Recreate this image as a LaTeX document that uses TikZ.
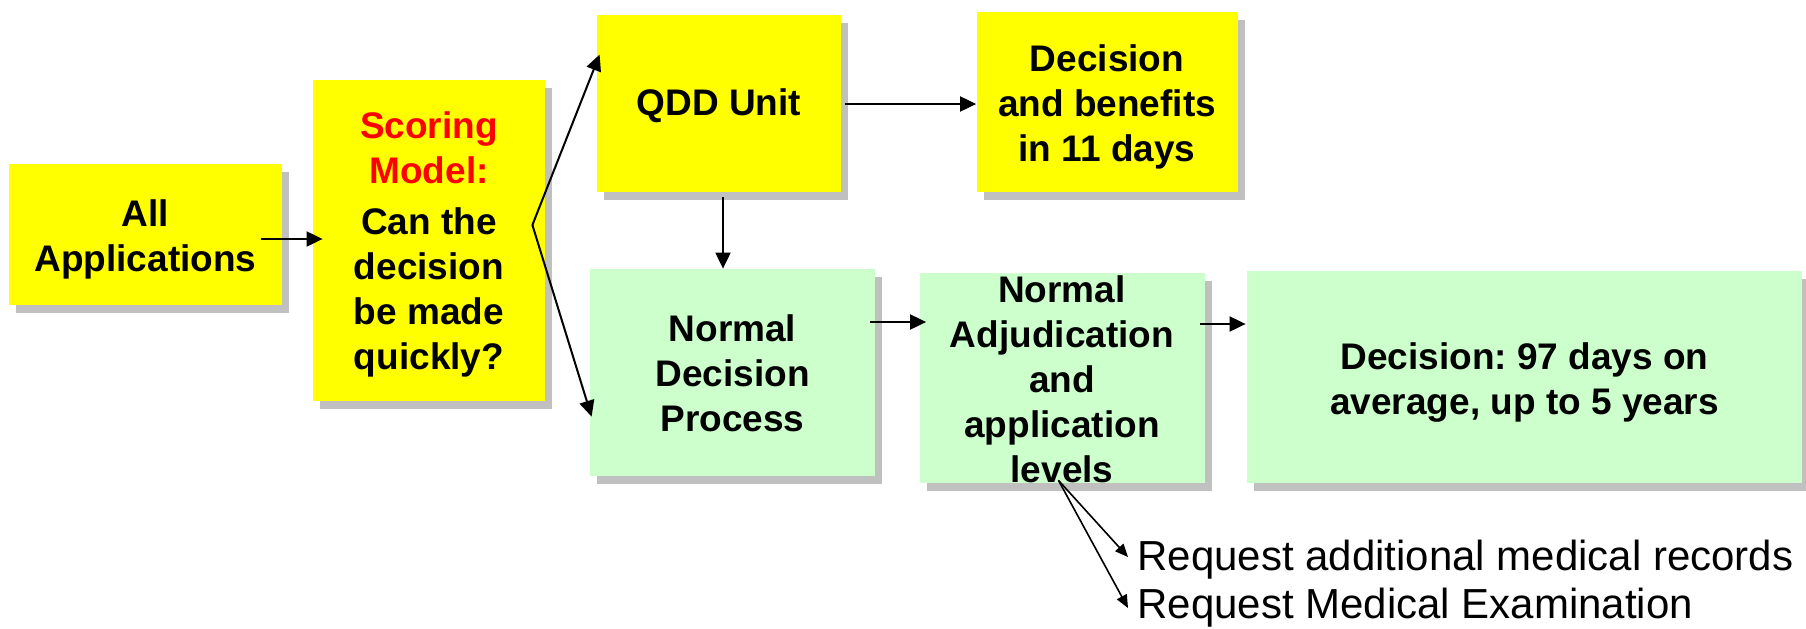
\documentclass[tikz,border=0pt]{standalone}
\usepackage{fontspec}
\setmainfont{Liberation Sans}
\frenchspacing
\usetikzlibrary{arrows.meta,shadows}
\definecolor{boxyellow}{RGB}{255,255,0}
\definecolor{boxgreen}{RGB}{204,255,204}
\definecolor{shadowgray}{RGB}{192,192,192}
\definecolor{scorered}{RGB}{255,0,0}
\begin{document}
\begin{tikzpicture}[x=0.5pt,y=-0.5pt,
  box/.style={rectangle, inner sep=0pt,
    drop shadow={shadow xshift=3.5pt,shadow yshift=-4pt,fill=shadowgray,opacity=1}},
  ybox/.style={box, fill=boxyellow},
  gbox/.style={box, fill=boxgreen},
  txt/.style={inner sep=0pt, align=center, font=\bfseries\fontsize{18.5}{22.5}\selectfont},
  arr/.style={line width=1pt, -{Triangle[length=8pt,width=7.5pt]}},
  thinarr/.style={line width=0.8pt, -{Triangle[length=6.5pt,width=5.5pt]}},
  note/.style={font=\fontsize{21}{24}\selectfont, anchor=base west, inner sep=0pt}]
\useasboundingbox (0,0) rectangle (1806,628);

\node[ybox, minimum width=136.5pt, minimum height=70.5pt] (allapp) at (145.5,234.5) {};
\node[ybox, minimum width=116pt, minimum height=160.5pt] (scoring) at (429,240.5) {};
\node[ybox, minimum width=122pt, minimum height=88.5pt] (qdd) at (719,103.5) {};
\node[ybox, minimum width=130.5pt, minimum height=90pt] (decben) at (1107,102) {};
\node[gbox, minimum width=142.5pt, minimum height=103.5pt] (normdec) at (732.5,372.5) {};
\node[gbox, minimum width=142.5pt, minimum height=105pt] (adj) at (1062,378) {};
\node[gbox, minimum width=277.5pt, minimum height=106pt] (dec97) at (1524.5,377) {};

\node[txt] (allapp-t) at ([shift={(0,5)}]allapp.center) {All\\Applications};
\node[txt] (scoring-t) at ([shift={(0,4)}]scoring.center)
  {\textcolor{scorered}{Scoring}\\\textcolor{scorered}{Model:}\\[3pt]Can the\\decision\\be made\\quickly?};
\node[txt] (qdd-t) at ([shift={(0,2)}]qdd.center) {QDD Unit};
\node[txt] (decben-t) at ([shift={(0,5)}]decben.center) {Decision\\and benefits\\in 11 days};
\node[txt] (normdec-t) at ([shift={(0,1)}]normdec.center) {Normal\\Decision\\Process};
\node[txt] (adj-t) at ([shift={(0,1.5)}]adj.center) {Normal\\Adjudication\\and\\application\\levels};
\node[txt] (dec97-t) at ([shift={(0,6)}]dec97.center) {Decision: 97 days on\\average, up to 5 years};

\node[note] (req1) at (1137,570) {Request additional medical records};
\node[note] (req2) at (1137,618) {Request Medical Examination};

\draw[arr] ([shift={(-21,4.5)}]allapp.east) -- ([shift={(10,-1.5)}]scoring.west);
\coordinate (fork) at ([shift={(-13,-15.5)}]scoring.east);
\draw[arr] (fork) -- ([shift={(3,40)}]qdd.north west);
\draw[arr] (fork) -- ([shift={(2,148)}]normdec.north west);
\coordinate (qddout) at ([shift={(4,0.5)}]qdd.east);
\draw[arr] (qddout) -- (decben.west |- qddout);
\coordinate (qdddown) at ([shift={(4,5)}]qdd.south);
\draw[arr] (qdddown) -- (qdddown |- normdec.north);
\draw[arr] ([shift={(-5,-50.5)}]normdec.east) -- ([shift={(7,-56)}]adj.west);
\draw[arr] ([shift={(-5,-54)}]adj.east) -- ([shift={(-1,-53)}]dec97.west);
\coordinate (fork2) at ([shift={(-3.5,-3)}]adj.south);
\draw[thinarr] (fork2) -- ([shift={(-9,-13)}]req1.base west);
\draw[thinarr] (fork2) -- ([shift={(-9,-10)}]req2.base west);
\end{tikzpicture}
\end{document}
